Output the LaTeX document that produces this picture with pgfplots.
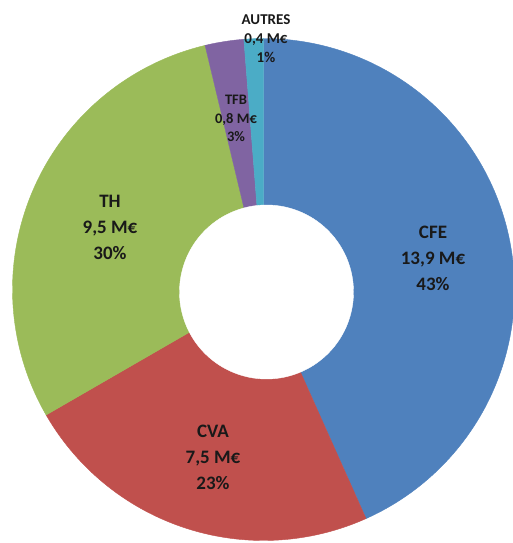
\documentclass[border=0pt]{standalone}
\usepackage{fontspec}
\setmainfont{Carlito}
\usepackage{pgfplots}
\usepackage{pgfplotstable}
\pgfplotsset{compat=1.18}

\definecolor{cfe}{RGB}{79,129,189}
\definecolor{cva}{RGB}{192,80,77}
\definecolor{th}{RGB}{155,187,89}
\definecolor{tfb}{RGB}{128,100,162}
\definecolor{autres}{RGB}{75,172,198}

% montants en M€, dans l'ordre des aiguilles d'une montre depuis midi
\pgfplotstableread{
label value
CFE 13.9
CVA 7.5
TH 9.5
TFB 0.8
AUTRES 0.4
}\slices

% centre et rayons de l'anneau (unites de l'axe = px de l'image)
\def\cx{263.5}
\def\cy{253.5}
\def\Rout{251}
\def\hx{266.5}
\def\hy{251}
\def\Rin{87}

\begin{document}
\begin{tikzpicture}
% angles cumules
\def\run{0}
\pgfplotsforeachungrouped \i in {0,...,4}{%
  \expandafter\xdef\csname cum\i\endcsname{\run}%
  \pgfplotstablegetelem{\i}{value}\of\slices
  \pgfmathsetmacro\run{\run+\pgfplotsretval}%
}
\expandafter\xdef\csname cum5\endcsname{\run}
\xdef\total{\run}
\pgfplotsforeachungrouped \i in {0,...,5}{%
  \pgfmathsetmacro\tmp{90-\csname cum\i\endcsname/\total*360}%
  \expandafter\xdef\csname ang\i\endcsname{\tmp}%
}
\begin{axis}[
  scale only axis, width=513pt, height=543pt,
  xmin=0, xmax=513, ymin=0, ymax=543,
  hide axis,
  every axis plot/.append style={samples=120, variable=\t, line width=0.4pt},
]
\addplot[fill=cfe, draw=cfe, domain=\csname ang1\endcsname:\csname ang0\endcsname]
  ({\cx+\Rout*cos(t)},{\cy+\Rout*sin(t)}) -- (axis cs:\cx,\cy) -- cycle;
\addplot[fill=cva, draw=cva, domain=\csname ang2\endcsname:\csname ang1\endcsname]
  ({\cx+\Rout*cos(t)},{\cy+\Rout*sin(t)}) -- (axis cs:\cx,\cy) -- cycle;
\addplot[fill=th, draw=th, domain=\csname ang3\endcsname:\csname ang2\endcsname]
  ({\cx+\Rout*cos(t)},{\cy+\Rout*sin(t)}) -- (axis cs:\cx,\cy) -- cycle;
\addplot[fill=tfb, draw=tfb, domain=\csname ang4\endcsname:\csname ang3\endcsname, samples=20]
  ({\cx+\Rout*cos(t)},{\cy+\Rout*sin(t)}) -- (axis cs:\cx,\cy) -- cycle;
\addplot[fill=autres, draw=autres, domain=\csname ang5\endcsname:\csname ang4\endcsname, samples=20]
  ({\cx+\Rout*cos(t)},{\cy+\Rout*sin(t)}) -- (axis cs:\cx,\cy) -- cycle;
% trou central
\addplot[fill=white, draw=white, domain=0:360, samples=180]
  ({\hx+\Rin*cos(t)},{\hy+\Rin*sin(t)}) -- cycle;

\tikzset{lbl/.style={align=center, font=\bfseries\fontsize{19}{26}\selectfont, text=black!90}}
\node[lbl] at (axis cs:433,284.5) {CFE\\13,9 M€\\43\%};
\node[lbl] at (axis cs:213,86) {CVA\\7,5 M€\\23\%};
\node[lbl] at (axis cs:110,316) {TH\\9,5 M€\\30\%};
\node[align=center, font=\bfseries\fontsize{14.5}{18.5}\selectfont, text=black!90]
  at (axis cs:236,424.5) {TFB\\0,8 M€\\3\%};
\node[align=center, font=\bfseries\fontsize{15}{19}\selectfont, text=black!90]
  at (axis cs:266,504) {AUTRES\\0,4 M€\\1\%};
\end{axis}
\pgfresetboundingbox
\useasboundingbox (current axis.south west) rectangle (current axis.north east);
\end{tikzpicture}
\end{document}
